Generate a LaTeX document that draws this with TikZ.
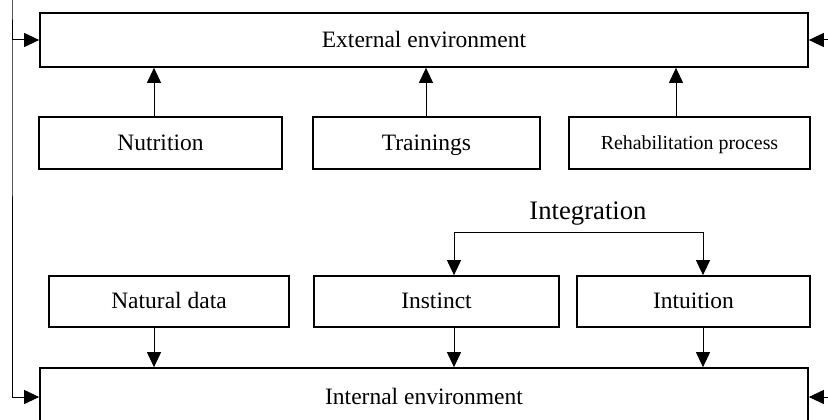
\documentclass[tikz,border=0pt]{standalone}
\usepackage{fontspec}
\setmainfont{Liberation Serif}
\usetikzlibrary{arrows.meta}

\tikzset{every picture/.style={line width=1pt}}
\tikzset{
  blk/.style={draw, line width=1.7pt, inner sep=0pt, anchor=center,
    text height=15.5pt, text depth=1pt,
    font=\fontsize{23.5}{26}\selectfont},
  lnk/.style={line width=1pt, -{Triangle[length=15pt,width=14pt]}},
  both/.style={line width=1pt, {Triangle[length=15pt,width=14pt]}-{Triangle[length=15pt,width=14pt]}}
}

\begin{document}
\begin{tikzpicture}[x=1pt,y=1pt,yscale=-1,xscale=1]
		\useasboundingbox (0,0) rectangle (828,420);

		% environment boxes
		\node[blk, minimum width=768pt, minimum height=54pt] (ext) at (424,40) {External environment};
		\node[blk, minimum width=768pt, minimum height=58pt] (int) at (424,397) {Internal environment};

		% upper row
		\node[blk, minimum width=243pt, minimum height=52pt] (nutr) at (160.5,143) {Nutrition};
		\node[blk, minimum width=227pt, minimum height=52pt] (train) at (426.5,143) {Trainings};
		\node[blk, minimum width=241pt, minimum height=52pt, text height=13pt,
		  font=\fontsize{19.9}{22}\selectfont] (rehab) at (689.5,143) {Rehabilitation process};

		% lower row
		\node[blk, minimum width=240pt, minimum height=51pt] (nat) at (169,301.5) {Natural data};
		\node[blk, minimum width=245pt, minimum height=51pt] (inst) at (436.5,301.5) {Instinct};
		\node[blk, minimum width=233pt, minimum height=51pt] (intu) at (693.5,301.5) {Intuition};

		% Text Node
		\node[font=\fontsize{26.7}{30}\selectfont] (integ) at (588,214) {Integration};

		% helper coordinates
		\coordinate (c1) at (154,0);
		\coordinate (c2) at (426,0);
		\coordinate (c3) at (676,0);
		\coordinate (c4) at (454,0);
		\coordinate (c5) at (703,0);
		\coordinate (lft) at (12,0);
		\coordinate (rgt) at (828,0);
		\coordinate (bar) at (0,232);

		% upper arrows
		\draw[lnk] (nutr.north -| c1) -- (ext.south -| c1);
		\draw[lnk] (train.north -| c2) -- (ext.south -| c2);
		\draw[lnk] (rehab.north -| c3) -- (ext.south -| c3);

		% lower arrows
		\draw[lnk] (nat.south -| c1) -- (int.north -| c1);
		\draw[lnk] (inst.south -| c4) -- (int.north -| c4);
		\draw[lnk] (intu.south -| c5) -- (int.north -| c5);

		% integration
		\draw[lnk] (bar -| c4) -- (inst.north -| c4);
		\draw[lnk] (bar -| c5) -- (intu.north -| c5);
		\draw (bar -| c4) -- (bar -| c5);

		% feedback loop
		\draw[both] (ext.west) -| (lft) |- (int.west);
		\draw[lnk] (rgt |- ext.east) -- (ext.east);
		\draw[lnk] (rgt |- int.east) -- (int.east);

\end{tikzpicture}
\end{document}
